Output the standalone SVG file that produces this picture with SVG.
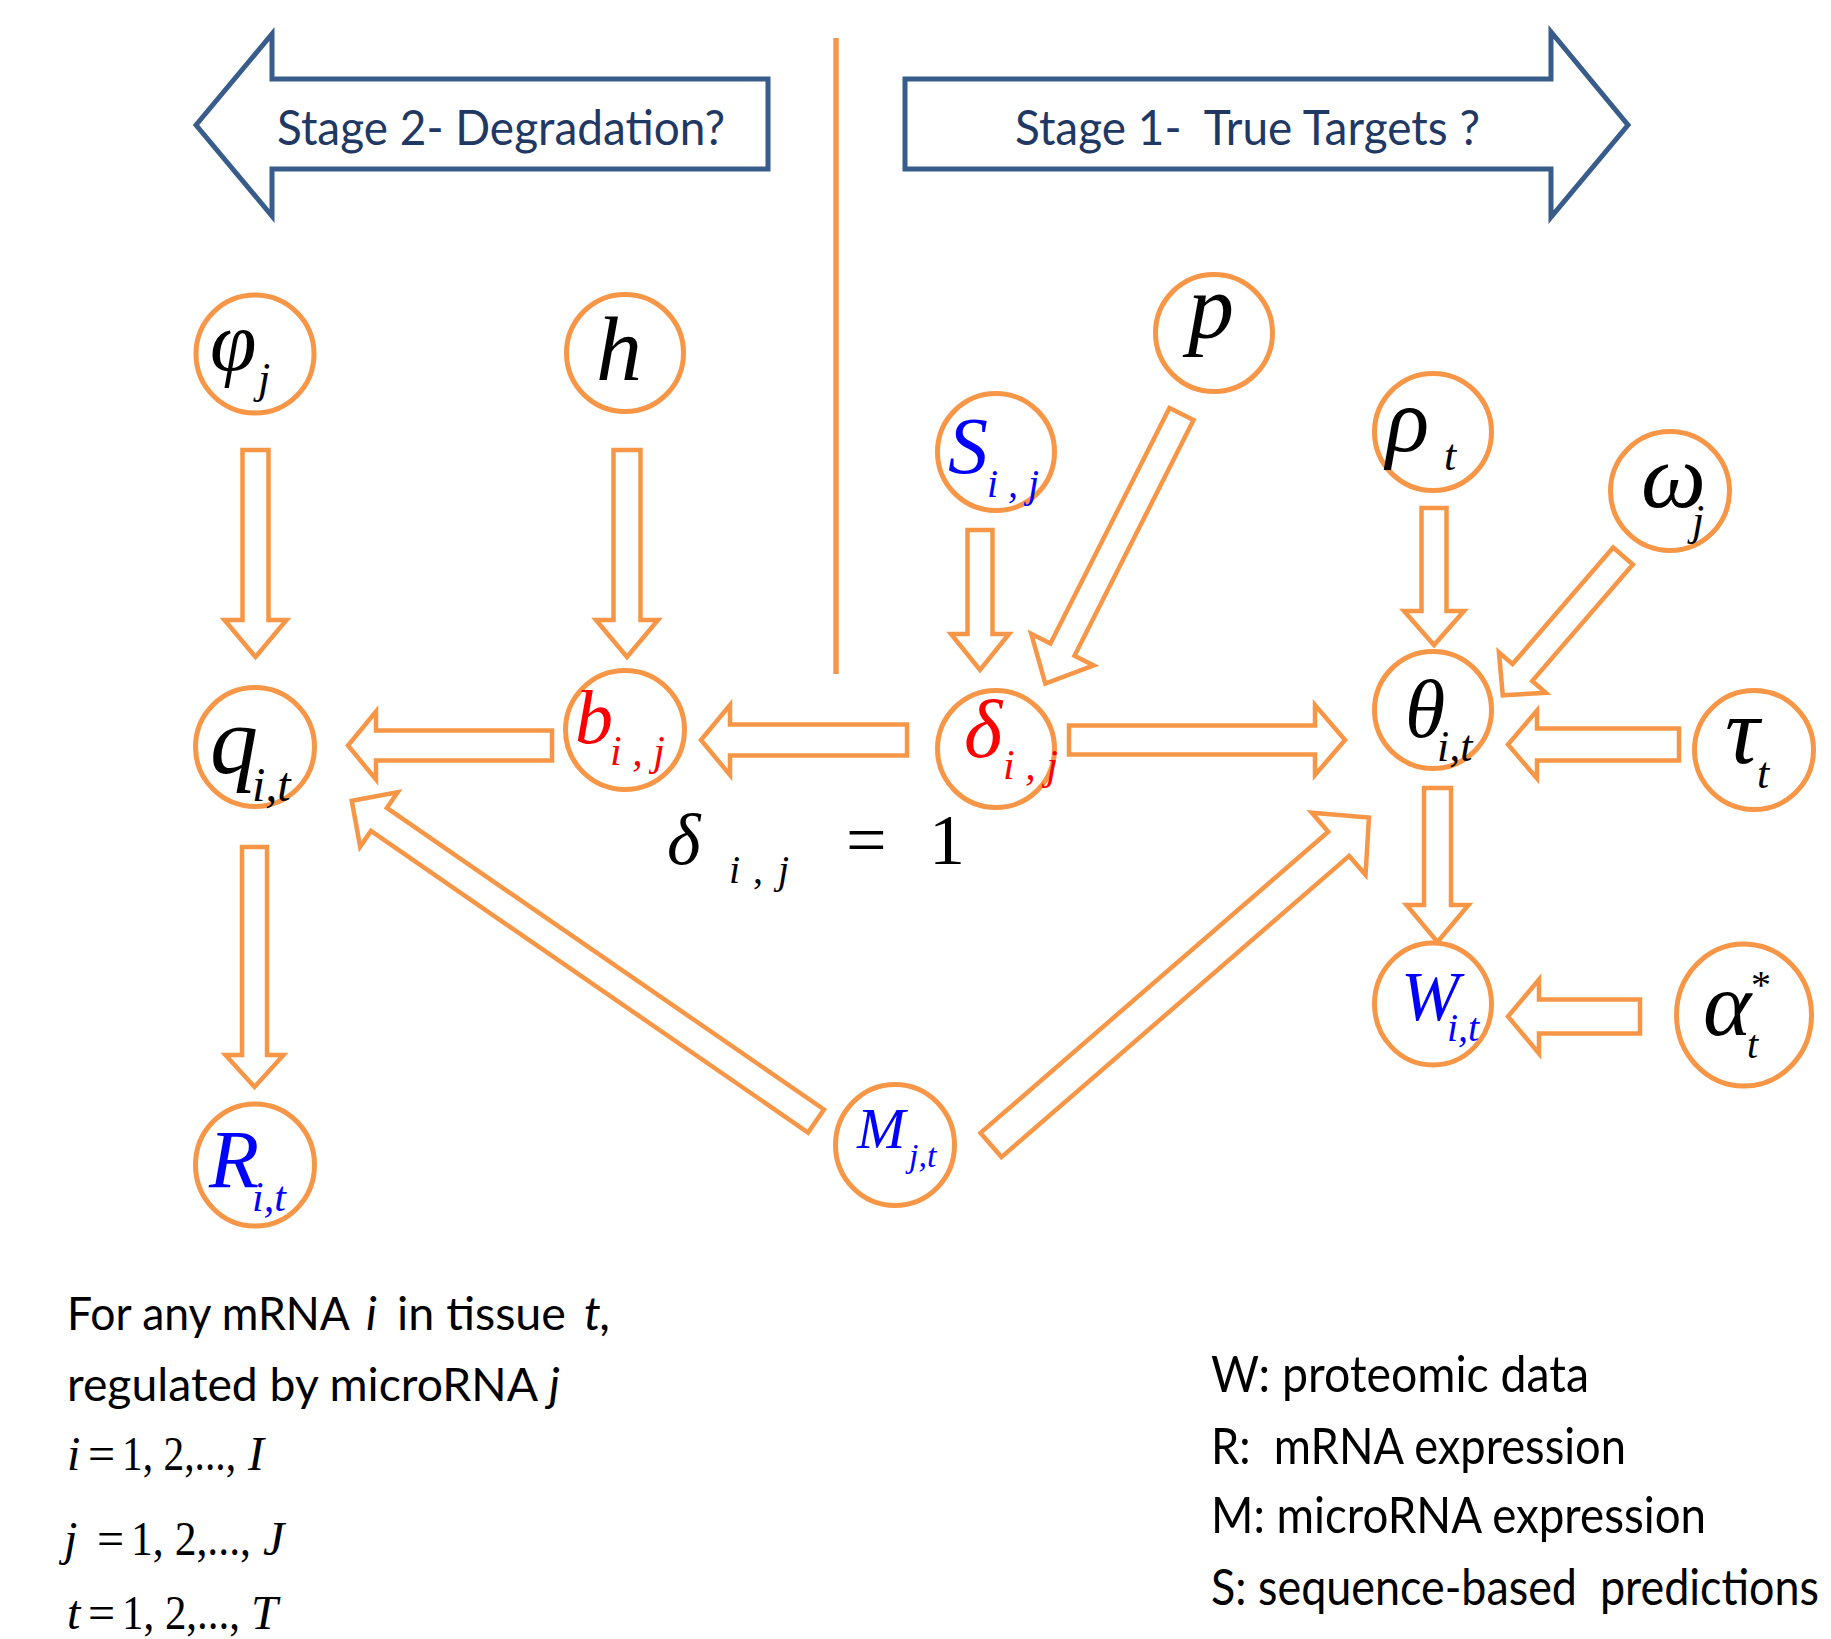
<svg xmlns="http://www.w3.org/2000/svg" width="1831" height="1639" viewBox="0 0 1831 1639">
  <style>
    .bg { fill: #ffffff; }
    .stage { fill: #ffffff; stroke: #385D8A; stroke-width: 5; stroke-linejoin: miter; }
    .stxt { font-family: Lato, "Liberation Sans", sans-serif; fill: #1F3864; font-size: 49px; }
    .divider { stroke: #F79646; stroke-width: 5.5; }
    .node circle, .node ellipse { fill: #ffffff; stroke: #F79646; stroke-width: 5; }
    .arrow { fill: #ffffff; stroke: #F79646; stroke-width: 4.5; stroke-linejoin: miter; }
    .m { font-family: "Liberation Serif", "Times New Roman", serif; font-style: italic; fill: #000000; }
    .up { font-style: normal; }
    .blue { fill: #0000FF; }
    .red { fill: #FF0000; }
    .note { font-family: Lato, "Liberation Sans", sans-serif; fill: #000000; font-size: 47px; }
    .leg { font-family: Lato, "Liberation Sans", sans-serif; fill: #000000; font-size: 51px; }
    .it { font-style: italic; }
  </style>

  <rect class="bg" x="0" y="0" width="1831" height="1639"/>

  <!-- stage banners -->
  <g id="stage2">
    <polygon class="stage" points="196,125 272,34 272,79 768,79 768,169 272,169 272,216"/>
    <text class="stxt" x="277" y="145" textLength="448" lengthAdjust="spacingAndGlyphs">Stage 2- Degradation?</text>
  </g>
  <g id="stage1">
    <polygon class="stage" points="905,79 1551,79 1551,32 1628,125 1551,217 1551,169 905,169"/>
    <text class="stxt" x="1015" y="145" textLength="465" lengthAdjust="spacingAndGlyphs" xml:space="preserve">Stage 1-  True Targets ?</text>
  </g>

  <line id="divider" class="divider" x1="836" y1="38" x2="836" y2="674"/>

  <!-- connectors: block arrows drawn along +x, then placed and turned -->
  <g id="connectors">
    <polygon class="arrow" transform="translate(255.5,450) rotate(90)" points="0,-13 170,-13 170,-31 207,0 170,31 170,13 0,13"/>
    <polygon class="arrow" transform="translate(627,450) rotate(90)" points="0,-13.5 170,-13.5 170,-31 207,0 170,31 170,13.5 0,13.5"/>
    <polygon class="arrow" transform="translate(552,745.5) rotate(180)" points="0,-15 176,-15 176,-34 204,0 176,34 176,15 0,15"/>
    <polygon class="arrow" transform="translate(907,740) rotate(180)" points="0,-15.5 177,-15.5 177,-35 206,0 177,35 177,15.5 0,15.5"/>
    <polygon class="arrow" transform="translate(1069,740)" points="0,-14.5 246,-14.5 246,-35 276,0 246,35 246,14.5 0,14.5"/>
    <polygon class="arrow" transform="translate(980,530) rotate(90)" points="0,-12.5 104,-12.5 104,-29 140,0 104,29 104,12.5 0,12.5"/>
    <polygon class="arrow" transform="translate(1181.5,414) rotate(116.8)" points="0,-13.5 264,-13.5 264,-35 302,0 264,35 264,13.5 0,13.5"/>
    <polygon class="arrow" transform="translate(1434,508) rotate(90)" points="0,-12.5 103,-12.5 103,-30 137,0 103,30 103,12.5 0,12.5"/>
    <polygon class="arrow" transform="translate(1623,556) rotate(130.8)" points="0,-13 154,-13 154,-31 184,0 154,31 154,13 0,13"/>
    <polygon class="arrow" transform="translate(1679,744.5) rotate(180)" points="0,-16 142,-16 142,-34 171,0 142,34 142,16 0,16"/>
    <polygon class="arrow" transform="translate(1437.5,788) rotate(90)" points="0,-13.5 117,-13.5 117,-31 154,0 117,31 117,13.5 0,13.5"/>
    <polygon class="arrow" transform="translate(1640,1016.5) rotate(180)" points="0,-17 101,-17 101,-37 132,0 101,37 101,17 0,17"/>
    <polygon class="arrow" transform="translate(254.5,847) rotate(90)" points="0,-12.5 208,-12.5 208,-29 240,0 208,29 208,12.5 0,12.5"/>
    <polygon class="arrow" transform="translate(816,1121) rotate(214.6)" points="0,-14 531,-14 531,-33 564,0 531,33 531,14 0,14"/>
    <polygon class="arrow" transform="translate(991,1145) rotate(-40.9)" points="0,-16 460,-16 460,-41 500,0 460,41 460,16 0,16"/>
  </g>

  <!-- nodes -->
  <g id="node-phi" class="node">
    <circle cx="255" cy="354" r="59"/>
    <text class="m" x="210" y="370" font-size="84">φ</text>
    <text class="m" x="258" y="393" font-size="44">j</text>
  </g>
  <g id="node-h" class="node">
    <circle cx="625" cy="353" r="58.5"/>
    <text class="m" x="596" y="380" font-size="92">h</text>
  </g>
  <g id="node-p" class="node">
    <circle cx="1214" cy="333" r="58.5"/>
    <text class="m" x="1188" y="338" font-size="92">p</text>
  </g>
  <g id="node-S" class="node">
    <circle cx="996" cy="452" r="58.5"/>
    <text class="m blue" x="948" y="473" font-size="80">S</text>
    <text class="m blue" x="987" y="497" font-size="40" xml:space="preserve">i , j</text>
  </g>
  <g id="node-rho" class="node">
    <circle cx="1433" cy="432" r="58.5"/>
    <text class="m" x="1386" y="451" font-size="90">ρ</text>
    <text class="m" x="1444" y="470" font-size="44">t</text>
  </g>
  <g id="node-omega" class="node">
    <circle cx="1670" cy="491" r="59.5"/>
    <text class="m" x="1641" y="507" font-size="92">ω</text>
    <text class="m" x="1692" y="535" font-size="44">j</text>
  </g>
  <g id="node-q" class="node">
    <circle cx="255" cy="747" r="59.5"/>
    <text class="m" x="210" y="773" font-size="96">q</text>
    <text class="m" x="252" y="801" font-size="48">i,t</text>
  </g>
  <g id="node-b" class="node">
    <circle cx="625" cy="730" r="59.5"/>
    <text class="m red" x="575" y="743" font-size="76">b</text>
    <text class="m red" x="610" y="765" font-size="42" xml:space="preserve">i , j</text>
  </g>
  <g id="node-delta" class="node">
    <circle cx="996" cy="749" r="58.5"/>
    <text class="m red" x="964" y="757" font-size="82">δ</text>
    <text class="m red" x="1003" y="779" font-size="42" xml:space="preserve">i , j</text>
  </g>
  <g id="node-theta" class="node">
    <circle cx="1433" cy="710" r="58.5"/>
    <text class="m" x="1405" y="737" font-size="82">θ</text>
    <text class="m" x="1437" y="761" font-size="44">i,t</text>
  </g>
  <g id="node-tau" class="node">
    <circle cx="1754" cy="750" r="59.5"/>
    <text class="m" x="1725" y="763" font-size="96">τ</text>
    <text class="m" x="1757" y="788" font-size="44">t</text>
  </g>
  <g id="node-W" class="node">
    <ellipse cx="1433" cy="1004" rx="58.5" ry="61"/>
    <text class="m blue" x="1401" y="1020" font-size="70">W</text>
    <text class="m blue" x="1447" y="1041" font-size="40">i,t</text>
  </g>
  <g id="node-alpha" class="node">
    <ellipse cx="1744" cy="1015" rx="67.5" ry="71"/>
    <text class="m" x="1703" y="1035" font-size="92">α</text>
    <text class="m up" x="1751" y="998" font-size="40">*</text>
    <text class="m" x="1747" y="1058" font-size="40">t</text>
  </g>
  <g id="node-M" class="node">
    <ellipse cx="895" cy="1145" rx="59.5" ry="60.5"/>
    <text class="m blue" x="857" y="1148" font-size="58">M</text>
    <text class="m blue" x="909" y="1167" font-size="34">j,t</text>
  </g>
  <g id="node-R" class="node">
    <ellipse cx="255" cy="1165" rx="59.5" ry="61"/>
    <text class="m blue" x="209" y="1187" font-size="82">R</text>
    <text class="m blue" x="252" y="1211" font-size="42">i,t</text>
  </g>

  <!-- condition under the stage split -->
  <g id="condition">
    <text class="m" x="667" y="864" font-size="72">δ</text>
    <text class="m" x="729" y="883" font-size="40">i</text>
    <text class="m up" x="753" y="883" font-size="40">,</text>
    <text class="m" x="778" y="883" font-size="40">j</text>
    <text class="m up" x="846" y="864" font-size="72">=</text>
    <text class="m up" x="929" y="864" font-size="72">1</text>
  </g>

  <!-- index notes -->
  <g id="index-notes">
    <text class="note" x="67" y="1330" textLength="283" lengthAdjust="spacingAndGlyphs">For any mRNA</text>
    <text class="note it" x="366" y="1330">i</text>
    <text class="note" x="397" y="1330" textLength="169" lengthAdjust="spacingAndGlyphs">in tissue</text>
    <text class="note it" x="584" y="1330">t,</text>
    <text class="note" x="67" y="1401" textLength="471" lengthAdjust="spacingAndGlyphs">regulated by microRNA</text>
    <text class="note it" x="549" y="1401">j</text>

    <text class="m" x="67" y="1470" font-size="48">i</text>
    <text class="m up" x="88" y="1470" font-size="48">=</text>
    <text class="m up" x="122" y="1470" font-size="48" textLength="114" lengthAdjust="spacingAndGlyphs">1, 2,...,</text>
    <text class="m" x="248" y="1470" font-size="48">I</text>

    <text class="m" x="64" y="1555" font-size="48">j</text>
    <text class="m up" x="97" y="1555" font-size="48">=</text>
    <text class="m up" x="131" y="1555" font-size="48" textLength="120" lengthAdjust="spacingAndGlyphs">1, 2,...,</text>
    <text class="m" x="263" y="1555" font-size="48">J</text>

    <text class="m" x="67" y="1629" font-size="48">t</text>
    <text class="m up" x="88" y="1629" font-size="48">=</text>
    <text class="m up" x="122" y="1629" font-size="48" textLength="118" lengthAdjust="spacingAndGlyphs">1, 2,...,</text>
    <text class="m" x="251" y="1629" font-size="48">T</text>
  </g>

  <!-- data legend -->
  <g id="legend">
    <text class="leg" x="1211" y="1392" textLength="378" lengthAdjust="spacingAndGlyphs">W: proteomic data</text>
    <text class="leg" x="1211" y="1464" textLength="415" lengthAdjust="spacingAndGlyphs" xml:space="preserve">R:  mRNA expression</text>
    <text class="leg" x="1211" y="1533" textLength="495" lengthAdjust="spacingAndGlyphs">M: microRNA expression</text>
    <text class="leg" x="1211" y="1605" textLength="608" lengthAdjust="spacingAndGlyphs" xml:space="preserve">S: sequence-based  predictions</text>
  </g>
</svg>
